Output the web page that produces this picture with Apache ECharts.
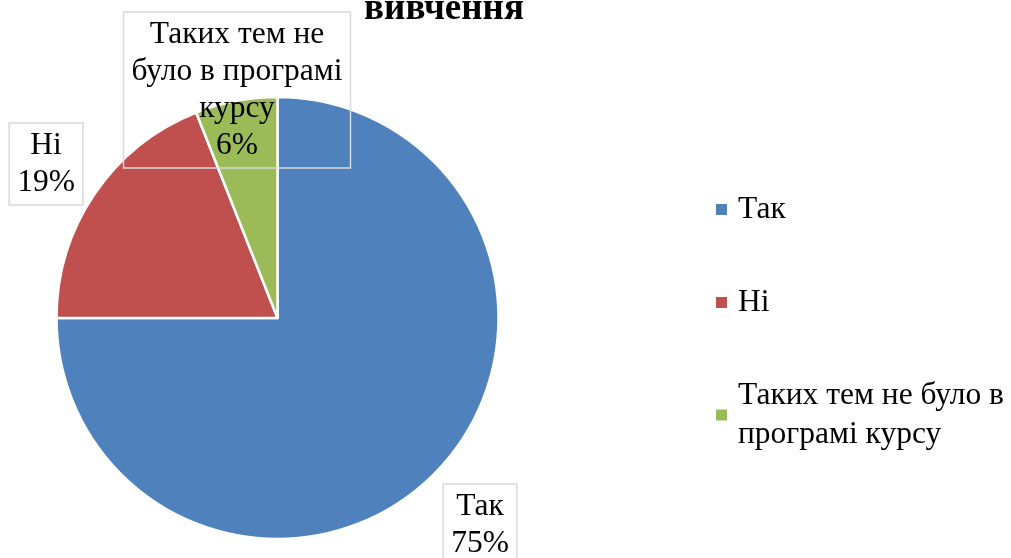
<!DOCTYPE html>
<html>
<head>
<meta charset="utf-8">
<script src="https://cdn.jsdelivr.net/npm/echarts@6/dist/echarts.min.js"></script>
<style>
  html, body { margin: 0; padding: 0; background: #fff; }
  #chart { width: 1011px; height: 558px; }
</style>
</head>
<body>
<div id="chart"></div>
<script>
// answers and their shares, %
var categories = ['Так', 'Ні', 'Таких тем не було в програмі курсу'];
var values = [75, 19, 6];
// how the slice labels break into lines
var labelNames = ['Так', 'Ні', 'Таких тем не\nбуло в програмі\nкурсу'];
var colors = ['#4F81BD', '#C0504D', '#9BBB59'];

var myChart = echarts.init(document.getElementById('chart'));

var pieData = [];
for (var i = 0; i < categories.length; i++)
{
    pieData.push({
        name: categories[i],
        value: values[i]
    });
}

// where each label box sits (centre of the box)
var labelSpots = [
    {x: 480, y: 525},
    {x: 46, y: 164},
    {x: 237, y: 90}
];

var font = '"Liberation Serif", "Times New Roman", serif';

option = {
    animation: false,
    color: colors,
    title: {
        text: 'вивчення',
        left: 439,
        top: -14,
        textAlign: 'center',
        textStyle: {
            fontFamily: font,
            fontWeight: 'bold',
            fontSize: 37,
            color: '#000'
        }
    },
    legend: {
        orient: 'vertical',
        left: 716,
        top: 190,
        padding: 0,
        itemWidth: 11,
        itemHeight: 11,
        itemGap: 54,
        icon: 'rect',
        itemStyle: {
            borderWidth: 0
        },
        formatter: function (name)
        {
            return name.replace(' програмі', '\nпрограмі');
        },
        textStyle: {
            fontFamily: font,
            fontSize: 31.5,
            lineHeight: 39,
            padding: [0, 0, 0, 6],
            color: '#000'
        },
        data: categories
    },
    series: [
        {
            type: 'pie',
            center: [277.5, 318],
            radius: 221,
            startAngle: 90,
            clockwise: true,
            itemStyle: {
                borderColor: '#fff',
                borderWidth: 2.5
            },
            label: {
                show: true,
                position: 'inside',
                formatter: function (p)
                {
                    return labelNames[p.dataIndex] + '\n' + p.value + '%';
                },
                fontFamily: font,
                fontSize: 31.5,
                lineHeight: 37,
                color: '#000',
                align: 'center',
                overflow: 'none',
                borderColor: '#d9d9d9',
                borderWidth: 1.5,
                padding: [5, 8, 3, 8]
            },
            labelLine: {
                show: false
            },
            labelLayout: function (params)
            {
                var s = labelSpots[params.dataIndex];
                return {
                    x: s.x,
                    y: s.y,
                    align: 'center',
                    verticalAlign: 'middle'
                };
            },
            data: pieData
        }
    ]
};
myChart.setOption(option);
</script>
</body>
</html>
